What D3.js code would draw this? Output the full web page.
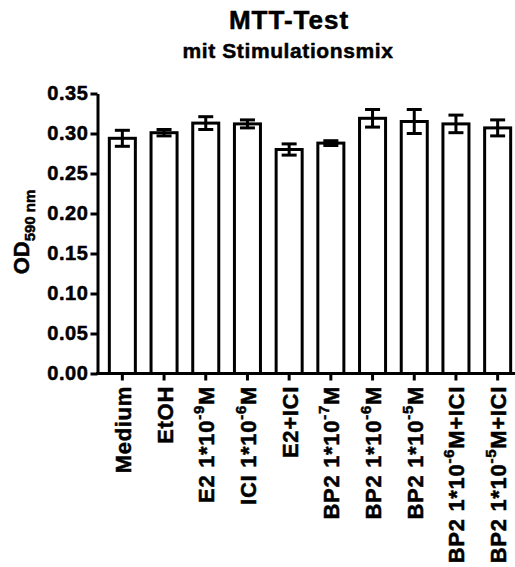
<!DOCTYPE html>
<html>
<head>
<meta charset="utf-8">
<script src="https://cdn.jsdelivr.net/npm/d3@7"></script>
<style>
  body { margin: 0; background: #fff; }
  text { font-family: Arial, "Liberation Sans", Helvetica, sans-serif; font-weight: bold; fill: #000; stroke: #000; stroke-width: 0.5px; }
</style>
</head>
<body>
<svg id="chart"></svg>
<script>
// label parts: main text, superscript, text after the superscript
const categories = ["Medium", "EtOH", "E2 1e-9", "ICI 1e-6", "E2+ICI", "BP2 1e-7", "BP2 1e-6", "BP2 1e-5", "BP2 1e-6+ICI", "BP2 1e-5+ICI"];
const labelMain = ["Medium", "EtOH", "E2 1*10", "ICI 1*10", "E2+ICI", "BP2 1*10", "BP2 1*10", "BP2 1*10", "BP2 1*10", "BP2 1*10"];
const labelSup = ["", "", "-9", "-6", "", "-7", "-6", "-5", "-6", "-5"];
const labelTail = ["", "", "M", "M", "", "M", "M", "M", "M+ICI", "M+ICI"];
const means = [0.294, 0.301, 0.313, 0.312, 0.280, 0.288, 0.319, 0.315, 0.312, 0.307];
const errors = [0.010, 0.004, 0.008, 0.005, 0.007, 0.003, 0.011, 0.015, 0.011, 0.010];
const yTicks = [0, 0.05, 0.10, 0.15, 0.20, 0.25, 0.30, 0.35];

const width = 515, height = 567;
const axisX = 97.5;

const svg = d3.select("#chart")
    .attr("width", width)
    .attr("height", height);

const x = d3.scaleBand()
    .domain(categories)
    .range([101.5, 518.5])
    .paddingInner(0.376)
    .paddingOuter(0.188);

const y = d3.scaleLinear()
    .domain([0, 0.35])
    .range([373.5, 93.5]);

// titles
svg.append("text")
    .attr("x", 289).attr("y", 29)
    .attr("text-anchor", "middle")
    .style("font-size", "26px")
    .style("letter-spacing", "1px")
    .text("MTT-Test");

svg.append("text")
    .attr("x", 288).attr("y", 58)
    .attr("text-anchor", "middle")
    .style("font-size", "21px")
    .style("letter-spacing", "0.6px")
    .text("mit Stimulationsmix");

// bars
const data = categories.map((c, i) => ({ cat: c, mean: means[i], err: errors[i] }));

svg.selectAll(".bar")
    .data(data)
    .enter().append("rect")
    .attr("class", "bar")
    .attr("x", d => x(d.cat))
    .attr("width", x.bandwidth())
    .attr("y", d => y(d.mean))
    .attr("height", d => y(0) - y(d.mean))
    .attr("fill", "#fff")
    .attr("stroke", "#000")
    .attr("stroke-width", 3);

// error bars
const capW = 7.5;
const eb = svg.selectAll(".err")
    .data(data)
    .enter().append("g")
    .attr("class", "err")
    .attr("transform", d => `translate(${x(d.cat) + x.bandwidth() / 2},0)`)
    .attr("stroke", "#000")
    .attr("stroke-width", 3);

eb.append("line")
    .attr("y1", d => y(d.mean - d.err))
    .attr("y2", d => y(d.mean + d.err));
eb.append("line")
    .attr("x1", -capW).attr("x2", capW)
    .attr("y1", d => y(d.mean + d.err))
    .attr("y2", d => y(d.mean + d.err));
eb.append("line")
    .attr("x1", -capW).attr("x2", capW)
    .attr("y1", d => y(d.mean - d.err))
    .attr("y2", d => y(d.mean - d.err));

// y axis
const yAxis = svg.append("g")
    .attr("transform", `translate(${axisX},0)`)
    .call(d3.axisLeft(y)
        .tickValues(yTicks)
        .tickFormat(d3.format(".2f"))
        .tickSize(7)
        .tickSizeOuter(0)
        .tickPadding(2));
yAxis.select(".domain").attr("stroke-width", 3);
yAxis.selectAll(".tick line").attr("stroke-width", 3);
yAxis.selectAll(".tick text")
    .style("font-size", "20px")
    .style("letter-spacing", "0.6px")
    .style("font-family", "Arial, 'Liberation Sans', sans-serif")
    .attr("fill", "#000");

// x axis
const xAxis = svg.append("g")
    .attr("transform", `translate(0,${y(0)})`)
    .call(d3.axisBottom(x).tickSize(7).tickFormat(""));
xAxis.select(".domain").remove();
xAxis.selectAll(".tick line").attr("stroke-width", 3);
xAxis.append("line")
    .attr("x1", axisX - 1.5).attr("x2", width)
    .attr("stroke", "#000")
    .attr("stroke-width", 3);

// x labels, rotated
const lab = svg.selectAll(".xlab")
    .data(categories)
    .enter().append("text")
    .attr("class", "xlab")
    .attr("text-anchor", "end")
    .attr("transform", d => `translate(${x(d) + x.bandwidth() / 2 + 8.5},386) rotate(-90)`)
    .style("font-size", "22px")
    .style("letter-spacing", "0.7px");

lab.each(function (d, i) {
    const t = d3.select(this);
    t.append("tspan").text(labelMain[i]);
    if (labelSup[i]) {
        t.append("tspan").attr("dy", -10).style("font-size", "15px").text(labelSup[i]);
        t.append("tspan").attr("dy", 10).text(labelTail[i]);
    }
});

// y title
const yt = svg.append("text")
    .attr("text-anchor", "middle")
    .attr("transform", "translate(29,232) rotate(-90)")
    .style("font-size", "22px");
yt.append("tspan").text("OD");
yt.append("tspan").attr("dy", 6).style("font-size", "15px").text("590 nm");
</script>
</body>
</html>
